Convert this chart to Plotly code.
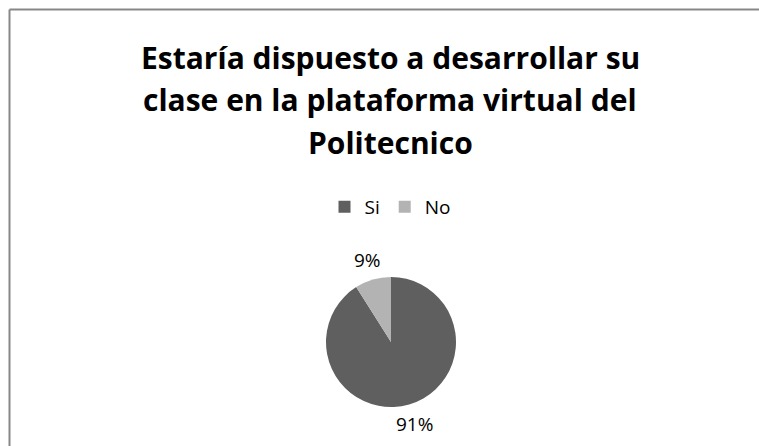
import math
import plotly.graph_objects as go

categories = ["Si", "No"]
values = [91, 9]
colors = ["#5f5f5f", "#b3b3b3"]
title_lines = ["Estaría dispuesto a desarrollar su",
               "clase en la plataforma virtual del",
               "Politecnico"]

W, H = 759, 446
FONT = "Open Sans"
CX, CY, R = 391, 342, 65     # pie centre/radius in pixels (from top-left)
LABEL_R = 85

fig = go.Figure()
fig.add_trace(go.Pie(
    labels=categories, values=values, sort=False, direction="clockwise", rotation=0,
    marker=dict(colors=colors, line=dict(width=0)),
    textposition="none",
    domain=dict(x=[(CX - R) / W, (CX + R) / W], y=[(H - CY - R) / H, (H - CY + R) / H]),
    hoverinfo="label+percent",
))

# percentage labels outside the slices, at each slice's mid-angle
total = sum(values)
cum = 0
for v in values:
    mid = (cum + v / 2) / total * 2 * math.pi   # clockwise from top
    cum += v
    px = CX + LABEL_R * math.sin(mid)
    py = CY - LABEL_R * math.cos(mid)
    fig.add_annotation(text=f"{round(100 * v / total)}%", x=px / W, y=1 - py / H,
                       xref="paper", yref="paper", showarrow=False,
                       xanchor="center", yanchor="middle",
                       font=dict(family=FONT, size=19, color="#000000"))

for i, t in enumerate(title_lines):
    fig.add_annotation(text="<b>" + t + "</b>", x=390 / W, y=1 - (57 + i * 43) / H,
                       xref="paper", yref="paper", showarrow=False, xanchor="center", yanchor="middle",
                       font=dict(family=FONT, size=30, color="#000000"))

fig.update_layout(
    width=W, height=H, margin=dict(l=0, r=0, t=0, b=0),
    paper_bgcolor="white", plot_bgcolor="white",
    showlegend=True,
    legend=dict(orientation="h", x=390 / W, xanchor="center", y=1 - 207 / H, yanchor="middle",
                font=dict(family=FONT, size=19, color="#000000"), itemsizing="constant"),
    shapes=[
        dict(type="line", xref="paper", yref="paper", x0=9.5 / W, x1=1, y0=1 - 9.5 / H, y1=1 - 9.5 / H,
             line=dict(color="#878787", width=2)),
        dict(type="line", xref="paper", yref="paper", x0=9.5 / W, x1=9.5 / W, y0=0, y1=1 - 9.5 / H,
             line=dict(color="#878787", width=2)),
    ],
)

fig.write_html("out.html")
